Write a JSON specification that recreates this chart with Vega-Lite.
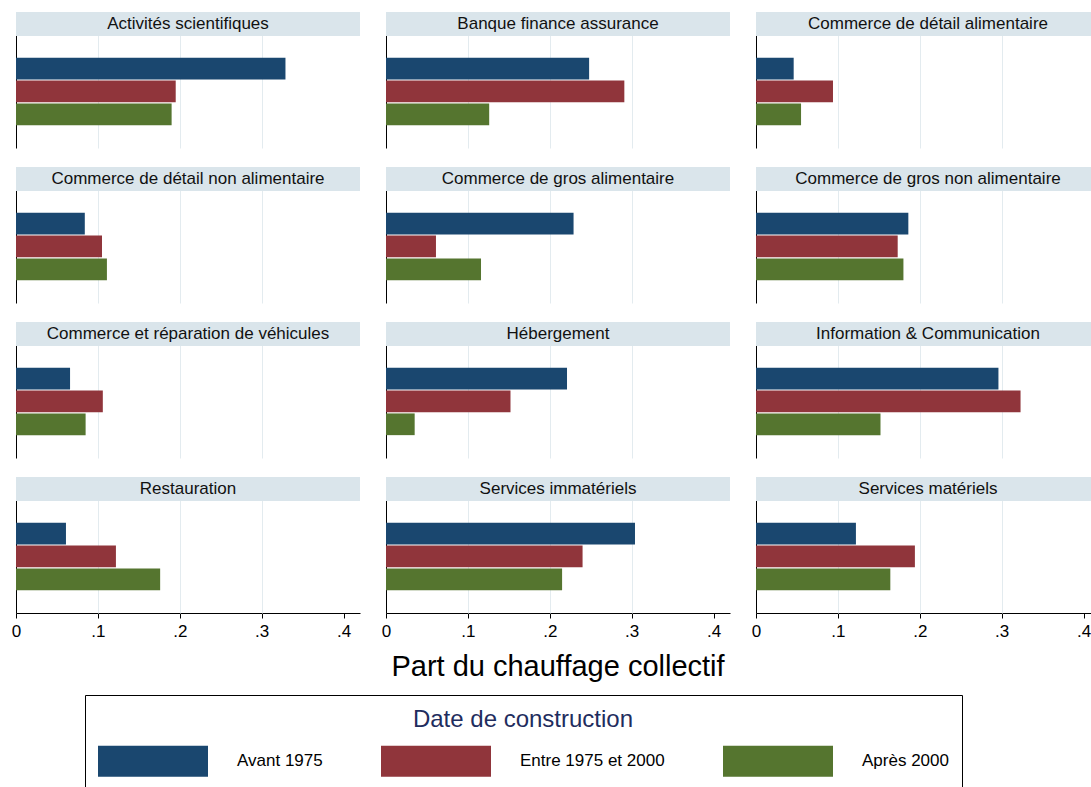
{
  "$schema": "https://vega.github.io/schema/vega-lite/v6.json",
  "padding": {"left": 11, "top": 11, "right": 0, "bottom": 0},
  "background": "white",
  "data": {"values": [
    {"secteur": "Activités scientifiques", "periode": "Avant 1975", "part": 0.329},
    {"secteur": "Activités scientifiques", "periode": "Entre 1975 et 2000", "part": 0.195},
    {"secteur": "Activités scientifiques", "periode": "Après 2000", "part": 0.190},
    {"secteur": "Banque  finance assurance", "periode": "Avant 1975", "part": 0.248},
    {"secteur": "Banque  finance assurance", "periode": "Entre 1975 et 2000", "part": 0.291},
    {"secteur": "Banque  finance assurance", "periode": "Après 2000", "part": 0.126},
    {"secteur": "Commerce de détail alimentaire", "periode": "Avant 1975", "part": 0.046},
    {"secteur": "Commerce de détail alimentaire", "periode": "Entre 1975 et 2000", "part": 0.094},
    {"secteur": "Commerce de détail alimentaire", "periode": "Après 2000", "part": 0.055},
    {"secteur": "Commerce de détail non alimentaire", "periode": "Avant 1975", "part": 0.084},
    {"secteur": "Commerce de détail non alimentaire", "periode": "Entre 1975 et 2000", "part": 0.105},
    {"secteur": "Commerce de détail non alimentaire", "periode": "Après 2000", "part": 0.111},
    {"secteur": "Commerce de gros alimentaire", "periode": "Avant 1975", "part": 0.229},
    {"secteur": "Commerce de gros alimentaire", "periode": "Entre 1975 et 2000", "part": 0.061},
    {"secteur": "Commerce de gros alimentaire", "periode": "Après 2000", "part": 0.116},
    {"secteur": "Commerce de gros non alimentaire", "periode": "Avant 1975", "part": 0.186},
    {"secteur": "Commerce de gros non alimentaire", "periode": "Entre 1975 et 2000", "part": 0.173},
    {"secteur": "Commerce de gros non alimentaire", "periode": "Après 2000", "part": 0.180},
    {"secteur": "Commerce et réparation de véhicules", "periode": "Avant 1975", "part": 0.066},
    {"secteur": "Commerce et réparation de véhicules", "periode": "Entre 1975 et 2000", "part": 0.106},
    {"secteur": "Commerce et réparation de véhicules", "periode": "Après 2000", "part": 0.085},
    {"secteur": "Hébergement", "periode": "Avant 1975", "part": 0.221},
    {"secteur": "Hébergement", "periode": "Entre 1975 et 2000", "part": 0.152},
    {"secteur": "Hébergement", "periode": "Après 2000", "part": 0.035},
    {"secteur": "Information & Communication", "periode": "Avant 1975", "part": 0.296},
    {"secteur": "Information & Communication", "periode": "Entre 1975 et 2000", "part": 0.323},
    {"secteur": "Information & Communication", "periode": "Après 2000", "part": 0.152},
    {"secteur": "Restauration", "periode": "Avant 1975", "part": 0.061},
    {"secteur": "Restauration", "periode": "Entre 1975 et 2000", "part": 0.122},
    {"secteur": "Restauration", "periode": "Après 2000", "part": 0.176},
    {"secteur": "Services immatériels", "periode": "Avant 1975", "part": 0.304},
    {"secteur": "Services immatériels", "periode": "Entre 1975 et 2000", "part": 0.240},
    {"secteur": "Services immatériels", "periode": "Après 2000", "part": 0.215},
    {"secteur": "Services matériels", "periode": "Avant 1975", "part": 0.122},
    {"secteur": "Services matériels", "periode": "Entre 1975 et 2000", "part": 0.194},
    {"secteur": "Services matériels", "periode": "Après 2000", "part": 0.164}
  ]},
  "facet": {
    "field": "secteur", "type": "nominal", "title": "Part du chauffage collectif",
    "sort": ["Activités scientifiques", "Banque  finance assurance", "Commerce de détail alimentaire", "Commerce de détail non alimentaire", "Commerce de gros alimentaire", "Commerce de gros non alimentaire", "Commerce et réparation de véhicules", "Hébergement", "Information & Communication", "Restauration", "Services immatériels", "Services matériels"],
    "header": {"labels": false, "titleOrient": "bottom", "titleFontSize": 29, "titleFont": "Liberation Sans", "titleColor": "black", "titleFontWeight": "normal", "titlePadding": 14}
  },
  "columns": 3,
  "spacing": {"row": 18, "column": 26},
  "resolve": {"scale": {"y": "independent"}},
  "spec": {
    "width": 344,
    "height": 136,
    "layer": [
      {
        "mark": {"type": "bar"},
        "encoding": {
          "y": {"field": "periode", "type": "nominal",
                "scale": {"domain": ["_h", "_g", "Avant 1975", "Entre 1975 et 2000", "Après 2000", "_b"], "paddingInner": 0.05, "paddingOuter": 0, "align": 0},
                "axis": {"title": null, "labels": false, "ticks": false, "grid": false, "domain": true, "domainColor": "black", "domainWidth": 1}},
          "x": {"field": "part", "type": "quantitative", "scale": {"domain": [0, 0.42], "nice": false, "zero": true},
                "axis": {"title": null, "values": [0, 0.1, 0.2, 0.3, 0.4],
                         "labelExpr": "datum.value == 0 ? '0' : replace(format(datum.value, '.1f'), '0.', '.')",
                         "labelFontSize": 17, "labelColor": "black", "labelFont": "Liberation Sans", "labelFlush": false, "labelOverlap": false,
                         "tickColor": "black", "tickSize": 5, "domainColor": "black", "labelPadding": 5,
                         "grid": true, "gridColor": "#e3ebef",
                         "gridOpacity": {"condition": {"test": "datum.value == 0 || datum.value >= 0.4", "value": 0}, "value": 1}}},
          "color": {"field": "periode", "type": "nominal",
                    "scale": {"domain": ["Avant 1975", "Entre 1975 et 2000", "Après 2000"], "range": ["#1a476f", "#90353b", "#55752f"]},
                    "legend": {"title": "Date de construction"}}
        }
      },
      {
        "transform": [{"filter": "datum.periode === 'Avant 1975'"}],
        "encoding": {
          "y": {"field": "periode", "type": "nominal", "scale": {"paddingInner": 0.5714, "paddingOuter": 1, "align": 0}, "axis": null}
        },
        "layer": [
          {"mark": {"type": "bar", "color": "#dae5eb"},
           "encoding": {"x": {"datum": 0, "type": "quantitative"}, "x2": {"datum": 0.42}}},
          {"mark": {"type": "text", "fontSize": 17, "font": "Liberation Sans", "color": "#111111", "baseline": "middle", "align": "center"},
           "encoding": {"x": {"datum": 0.21, "type": "quantitative"}, "text": {"field": "secteur"}}}
        ]
      }
    ],
    "resolve": {"scale": {"y": "independent"}}
  },
  "config": {
    "view": {"stroke": null},
    "font": "Liberation Sans",
    "header": {"labels": false, "labelExpr": "''", "labelFontSize": 0.01, "labelPadding": 0, "titleOrient": "bottom", "titleFontSize": 29, "titleFont": "Liberation Sans", "titleColor": "black", "titleFontWeight": "normal", "titlePadding": 14},
    "headerFacet": {"labels": false, "labelExpr": "''", "labelFontSize": 0.01, "labelPadding": 0, "titleOrient": "bottom", "titleFontSize": 29, "titleFont": "Liberation Sans", "titleColor": "black", "titleFontWeight": "normal", "titlePadding": 14},
    "legend": {
      "orient": "none", "legendX": 69, "legendY": 683, "direction": "horizontal",
      "titleFontSize": 24, "titleFontWeight": "normal", "titleColor": "#1f2d5e", "titleFont": "Liberation Sans", "titleLimit": 500,
      "titleAnchor": "middle", "titlePadding": -26, "padding": 13,
      "strokeColor": "black", "fillColor": "white",
      "symbolType": "M-1,-0.2818H1V0.2818H-1Z", "symbolSize": 12100, "symbolStrokeWidth": 0, "symbolOpacity": 1,
      "labelFontSize": 17, "labelColor": "black", "labelFont": "Liberation Sans", "labelOffset": 29, "columnPadding": 58, "labelLimit": 300
    }
  }
}
